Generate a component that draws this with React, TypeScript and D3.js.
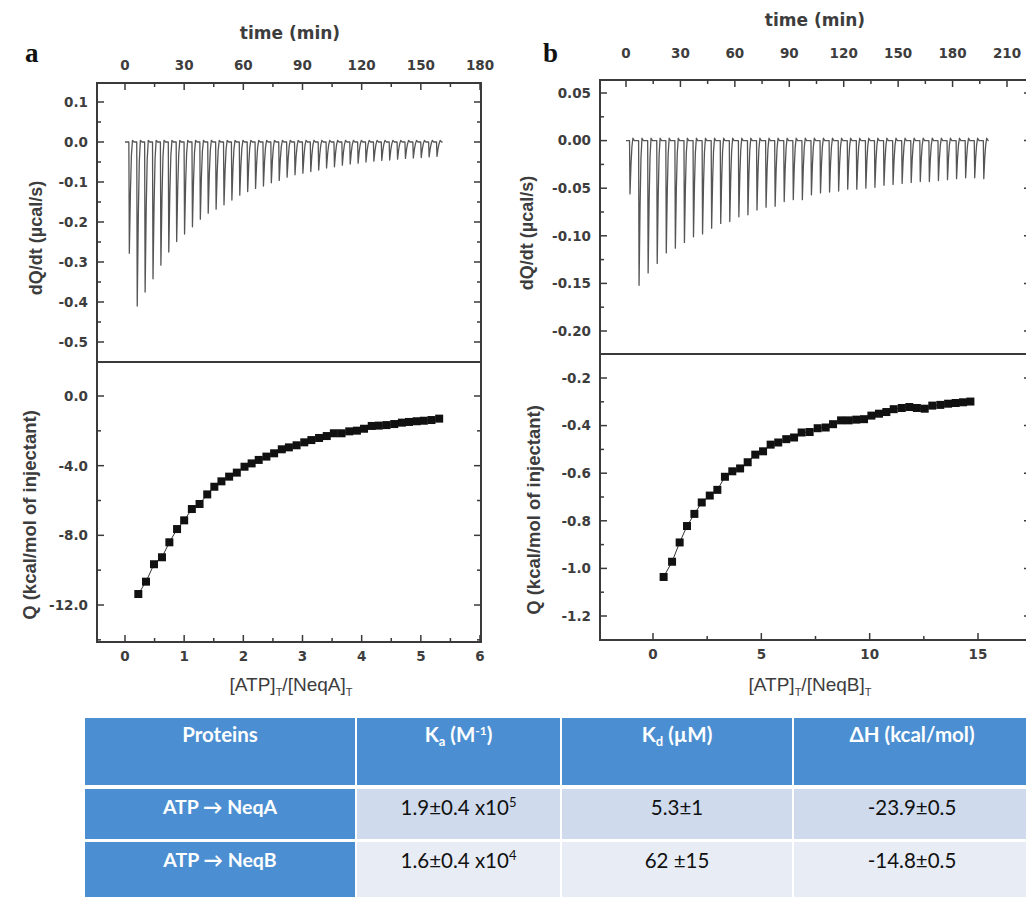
import React from "react";
import * as d3 from "d3";

// ---------------- DATA ----------------
// Panel a (NeqA): raw thermogram injections
const injectionTimesA = [2, 6, 10, 14, 18, 22, 26, 30, 34, 38, 42, 46, 50, 54, 58, 62, 66, 70, 74, 78, 82, 86, 90, 94, 98, 102, 106, 110, 114, 118, 122, 126, 130, 134, 138, 142, 146, 150, 154, 158];
const peakHeightsA = [-0.278, -0.41, -0.375, -0.342, -0.308, -0.275, -0.249, -0.23, -0.212, -0.193, -0.178, -0.168, -0.157, -0.145, -0.133, -0.124, -0.116, -0.11, -0.102, -0.096, -0.088, -0.082, -0.078, -0.074, -0.07, -0.065, -0.062, -0.058, -0.055, -0.053, -0.05, -0.048, -0.046, -0.045, -0.043, -0.041, -0.04, -0.039, -0.037, -0.036];
// Panel a integrated heats
const molarRatioA = [0.225, 0.355, 0.49, 0.625, 0.75, 0.88, 1.0, 1.13, 1.26, 1.39, 1.51, 1.63, 1.76, 1.89, 2.02, 2.14, 2.26, 2.39, 2.52, 2.65, 2.77, 2.9, 3.03, 3.15, 3.28, 3.41, 3.53, 3.66, 3.79, 3.92, 4.04, 4.17, 4.29, 4.42, 4.55, 4.68, 4.8, 4.93, 5.05, 5.18, 5.31];
const heatA = [-11.37, -10.66, -9.66, -9.26, -8.4, -7.64, -7.14, -6.49, -6.2, -5.65, -5.21, -4.9, -4.63, -4.4, -4.06, -3.87, -3.67, -3.48, -3.29, -3.06, -2.95, -2.83, -2.66, -2.53, -2.41, -2.3, -2.14, -2.14, -2.03, -1.99, -1.88, -1.72, -1.7, -1.67, -1.61, -1.53, -1.49, -1.45, -1.42, -1.38, -1.3];

// Panel b (NeqB)
const injectionTimesB = [2, 7, 12, 17, 22, 27, 32, 37, 42, 47, 52, 57, 62, 67, 72, 77, 82, 87, 92, 97, 102, 107, 112, 117, 122, 127, 132, 137, 142, 147, 152, 157, 162, 167, 172, 177, 182, 187, 192, 197];
const peakHeightsB = [-0.056, -0.152, -0.139, -0.129, -0.118, -0.113, -0.107, -0.101, -0.098, -0.092, -0.087, -0.085, -0.08, -0.078, -0.073, -0.07, -0.069, -0.064, -0.062, -0.062, -0.057, -0.055, -0.054, -0.053, -0.051, -0.051, -0.05, -0.049, -0.047, -0.046, -0.045, -0.044, -0.043, -0.043, -0.042, -0.041, -0.04, -0.039, -0.039, -0.04];
const molarRatioB = [0.49, 0.88, 1.23, 1.57, 1.91, 2.25, 2.62, 2.97, 3.32, 3.66, 4.02, 4.37, 4.72, 5.08, 5.43, 5.78, 6.15, 6.51, 6.86, 7.23, 7.6, 7.97, 8.31, 8.68, 9.03, 9.38, 9.74, 10.08, 10.43, 10.77, 11.11, 11.48, 11.83, 12.18, 12.54, 12.89, 13.26, 13.62, 13.97, 14.31, 14.65];
const heatB = [-1.036, -0.972, -0.891, -0.822, -0.771, -0.723, -0.694, -0.67, -0.615, -0.592, -0.58, -0.554, -0.522, -0.508, -0.48, -0.471, -0.457, -0.45, -0.429, -0.427, -0.411, -0.408, -0.394, -0.378, -0.378, -0.375, -0.373, -0.358, -0.35, -0.343, -0.331, -0.326, -0.322, -0.326, -0.329, -0.316, -0.313, -0.308, -0.305, -0.302, -0.299];

// Tick values
const timeTicksA = [0, 30, 60, 90, 120, 150, 180];
const dqTicksA = [0.1, 0.0, -0.1, -0.2, -0.3, -0.4, -0.5];
const qTicksA = [0, -4, -8, -12];
const ratioTicksA = [0, 1, 2, 3, 4, 5, 6];
const timeTicksB = [0, 30, 60, 90, 120, 150, 180, 210];
const dqTicksB = [0.05, 0.0, -0.05, -0.1, -0.15, -0.2];
const qTicksB = [-0.2, -0.4, -0.6, -0.8, -1.0, -1.2];
const ratioTicksB = [0, 5, 10, 15];

// Table
const proteinLabels = ["ATP \u2192 NeqA", "ATP \u2192 NeqB"];
const kaMantissa = ["1.9\u00b10.4 x10", "1.6\u00b10.4 x10"];
const kaExponent = ["5", "4"];
const kdValues = ["5.3\u00b11", "62 \u00b115"];
const dhValues = ["-23.9\u00b10.5", "-14.8\u00b10.5"];

// ---------------- HELPERS ----------------
const TICK_FONT = "'DejaVu Sans', sans-serif";
const TITLE_FONT = "'Liberation Sans', Arial, sans-serif";
const TEXT_COL = "#3d3d3d";
const FRAME_COL = "#3a3a3a";

type Pt = [number, number];

function thermogram(times: number[], peaks: number[], tEnd: number, hook: number): Pt[] {
  const pts: Pt[] = [[0, 0]];
  times.forEach((t, i) => {
    const p = peaks[i];
    pts.push([t - 0.05, 0]);
    pts.push([t + 0.2, p]);
    pts.push([t + 0.75, p * 0.45]);
    pts.push([t + 1.25, p * 0.12]);
    pts.push([t + 1.8, hook]);
    pts.push([t + 2.6, 0]);
  });
  pts.push([tEnd, 0]);
  return pts;
}

function minorsOf(values: number[]) {
  const step = values[1] - values[0];
  const out = [values[0] - step / 2];
  values.forEach((v) => out.push(v + step / 2));
  return out;
}

function VTicks({ scale, values, x0, x1, yLo, yHi }: any) {
  const minors = minorsOf(values);
  const inside = (v: number) => scale(v) > yLo + 2 && scale(v) < yHi - 2;
  return (
    <g stroke={FRAME_COL} strokeWidth={1.5}>
      {values.filter(inside).map((v: number, i: number) => (
        <g key={"M" + i}>
          <line x1={x0} x2={x0 + 7} y1={scale(v)} y2={scale(v)} />
          <line x1={x1} x2={x1 - 7} y1={scale(v)} y2={scale(v)} />
        </g>
      ))}
      {minors.filter(inside).map((v: number, i: number) => (
        <g key={"m" + i}>
          <line x1={x0} x2={x0 + 4} y1={scale(v)} y2={scale(v)} />
          <line x1={x1} x2={x1 - 4} y1={scale(v)} y2={scale(v)} />
        </g>
      ))}
    </g>
  );
}

function HTicks({ scale, values, y, dir, xLo, xHi }: any) {
  const minors = minorsOf(values);
  const inside = (v: number) => scale(v) > xLo + 2 && scale(v) < xHi - 2;
  return (
    <g stroke={FRAME_COL} strokeWidth={1.5}>
      {values.filter((v: number) => scale(v) >= xLo && scale(v) <= xHi).map((v: number, i: number) => (
        <line key={"M" + i} x1={scale(v)} x2={scale(v)} y1={y} y2={y + dir * 7} />
      ))}
      {minors.filter(inside).map((v: number, i: number) => (
        <line key={"m" + i} x1={scale(v)} x2={scale(v)} y1={y} y2={y + dir * 4} />
      ))}
    </g>
  );
}

function XTitle({ x, y, name }: any) {
  return (
    <text x={x} y={y} textAnchor="middle" fontFamily={TITLE_FONT} fontSize={19} fill={TEXT_COL}>
      [ATP]
      <tspan dy={5} fontSize={11}>T</tspan>
      <tspan dy={-5}>/[{name}]</tspan>
      <tspan dy={5} fontSize={11}>T</tspan>
    </text>
  );
}

function Panel({ g }: any) {
  const { left, right, top, mid, bottom, tS, xS, yT, yB, times, peaks, tEnd, hook, ratio, heat,
    tTicks, dTicks, qTicks, rTicks, dFmt, qFmt, topLabelY, bottomLabelY, letter, letterX, timeTitleX, timeTitleY,
    yTitleTopX, yTitleTopY, yTitleBotX, yTitleBotY, xTitleX, xTitleY, name } = g;
  const thermo = thermogram(times, peaks, tEnd, hook);
  const thermoLine = d3.line<Pt>().x((d) => tS(d[0])).y((d) => yT(d[1]));
  const pts: Pt[] = ratio.map((r: number, i: number) => [r, heat[i]]);
  const fitLine = d3.line<Pt>().x((d) => xS(d[0])).y((d) => yB(d[1]));
  const labelLeft = left - 9;
  return (
    <g>
      {/* frames */}
      <rect x={left} y={top} width={right - left} height={bottom - top} fill="none" stroke={FRAME_COL} strokeWidth={2} />
      <line x1={left} x2={right} y1={mid} y2={mid} stroke={FRAME_COL} strokeWidth={2} />
      {/* ticks */}
      <HTicks scale={tS} values={tTicks} y={top} dir={1} xLo={left} xHi={right} />
      <HTicks scale={xS} values={rTicks} y={bottom} dir={-1} xLo={left} xHi={right} />
      <VTicks scale={yT} values={dTicks} x0={left} x1={right} yLo={top} yHi={mid} />
      <VTicks scale={yB} values={qTicks} x0={left} x1={right} yLo={mid} yHi={bottom} />
      {/* tick labels */}
      <g fontFamily={TICK_FONT} fontWeight="bold" fontSize={13.5} fill={TEXT_COL}>
        {tTicks.map((v: number) => (
          <text key={"t" + v} x={tS(v)} y={topLabelY} textAnchor="middle">{String(v)}</text>
        ))}
        {rTicks.map((v: number) => (
          <text key={"r" + v} x={xS(v)} y={bottomLabelY} textAnchor="middle">{String(v)}</text>
        ))}
        {dTicks.map((v: number) => (
          <text key={"d" + v} x={labelLeft} y={yT(v)} dy="0.36em" textAnchor="end">{dFmt(v)}</text>
        ))}
        {qTicks.map((v: number) => (
          <text key={"q" + v} x={labelLeft} y={yB(v)} dy="0.36em" textAnchor="end">{qFmt(v)}</text>
        ))}
      </g>
      {/* thermogram */}
      <path d={thermoLine(thermo) || ""} fill="none" stroke="#555" strokeWidth={1.3} strokeLinejoin="round" />
      {/* binding isotherm */}
      <path d={fitLine(pts) || ""} fill="none" stroke="#333" strokeWidth={1} />
      {pts.map((p, i) => (
        <rect key={i} x={xS(p[0]) - 4} y={yB(p[1]) - 4} width={8} height={8} fill="#111" />
      ))}
      {/* titles */}
      <text x={timeTitleX} y={timeTitleY} textAnchor="middle" fontFamily={TICK_FONT} fontWeight="bold" fontSize={17} fill={TEXT_COL}>
        time (min)
      </text>
      <text transform={`translate(${yTitleTopX},${yTitleTopY}) rotate(-90)`} textAnchor="middle" dy="0.35em"
        fontFamily={TITLE_FONT} fontWeight="bold" fontSize={18} fill={TEXT_COL}>
        dQ/dt (µcal/s)
      </text>
      <text transform={`translate(${yTitleBotX},${yTitleBotY}) rotate(-90)`} textAnchor="middle" dy="0.35em"
        fontFamily={TITLE_FONT} fontWeight="bold" fontSize={18.5} fill={TEXT_COL}>
        Q (kcal/mol of injectant)
      </text>
      <XTitle x={xTitleX} y={xTitleY} name={name} />
      <text x={letterX} y={62} fontFamily="'Liberation Serif', 'Times New Roman', serif" fontWeight="bold" fontSize={27} fill="#111">
        {letter}
      </text>
    </g>
  );
}

function Table() {
  const cols = [
    { x0: 85, x1: 355 },
    { x0: 357, x1: 560 },
    { x0: 562, x1: 792 },
    { x0: 794, x1: 1030 },
  ];
  const header = { y0: 718, y1: 785 };
  const rows = [
    { y0: 789, y1: 839 },
    { y0: 842, y1: 900 },
  ];
  const blue = "#4b8fd2";
  const rowFills = ["#cfdbed", "#e7ecf5"];
  const cx = (c: any) => (c.x0 + c.x1) / 2;
  const hf = { fontFamily: "Lato, 'Open Sans', sans-serif", fontWeight: "bold", fontSize: 20.5, fill: "#fff", textAnchor: "middle" as const };
  const bf = { fontFamily: "Lato, 'Open Sans', sans-serif", fontSize: 20.5, fill: "#111", textAnchor: "middle" as const };
  const hy = 742;
  return (
    <g>
      {cols.map((c, i) => (
        <rect key={"h" + i} x={c.x0} y={header.y0} width={c.x1 - c.x0} height={header.y1 - header.y0} fill={blue} />
      ))}
      {rows.map((r, ri) =>
        cols.map((c, ci) => (
          <rect key={ri + "-" + ci} x={c.x0} y={r.y0} width={c.x1 - c.x0} height={r.y1 - r.y0} fill={ci === 0 ? blue : rowFills[ri]} />
        ))
      )}
      <text x={cx(cols[0])} y={hy} {...hf}>Proteins</text>
      <text x={cx(cols[1])} y={hy} {...hf}>
        K<tspan dy={4} fontSize={13}>a</tspan><tspan dy={-4}> (M</tspan><tspan dy={-7} fontSize={12}>-1</tspan><tspan dy={7}>)</tspan>
      </text>
      <text x={cx(cols[2])} y={hy} {...hf}>
        K<tspan dy={4} fontSize={13}>d</tspan><tspan dy={-4}> (µM)</tspan>
      </text>
      <text x={cx(cols[3])} y={hy} {...hf}>ΔH (kcal/mol)</text>
      {rows.map((r, ri) => {
        const by = r.y0 + 26;
        return (
          <g key={"t" + ri}>
            <text x={cx(cols[0])} y={by - 1} {...hf} fontSize={19.5}>{proteinLabels[ri]}</text>
            <text x={cx(cols[1])} y={by} {...bf}>
              {kaMantissa[ri]}<tspan dy={-8} fontSize={13}>{kaExponent[ri]}</tspan>
            </text>
            <text x={cx(cols[2])} y={by} {...bf}>{kdValues[ri]}</text>
            <text x={cx(cols[3])} y={by} {...bf}>{dhValues[ri]}</text>
          </g>
        );
      })}
    </g>
  );
}

export default function App() {
  const panelA = {
    left: 97, right: 481, top: 83, mid: 362, bottom: 642,
    tS: d3.scaleLinear().domain([0, 180]).range([125, 480]),
    xS: d3.scaleLinear().domain([0, 6]).range([125, 480]),
    yT: d3.scaleLinear().domain([0.1, -0.5]).range([102, 342]),
    yB: d3.scaleLinear().domain([0, -12]).range([396, 605]),
    times: injectionTimesA, peaks: peakHeightsA, tEnd: 161, hook: 0.004,
    ratio: molarRatioA, heat: heatA,
    tTicks: timeTicksA, dTicks: dqTicksA, qTicks: qTicksA, rTicks: ratioTicksA,
    dFmt: (v: number) => v.toFixed(1), qFmt: (v: number) => v.toFixed(1),
    topLabelY: 70, bottomLabelY: 661, letter: "a", letterX: 25,
    timeTitleX: 290, timeTitleY: 39,
    yTitleTopX: 36, yTitleTopY: 238, yTitleBotX: 30, yTitleBotY: 515,
    xTitleX: 291, xTitleY: 691, name: "NeqA",
  };
  const panelB = {
    left: 600, right: 1031, top: 80, mid: 354, bottom: 640,
    tS: d3.scaleLinear().domain([0, 210]).range([626, 1007]),
    xS: d3.scaleLinear().domain([0, 15]).range([653, 978]),
    yT: d3.scaleLinear().domain([0.05, -0.2]).range([93, 331]),
    yB: d3.scaleLinear().domain([-0.2, -1.2]).range([378, 616]),
    times: injectionTimesB, peaks: peakHeightsB, tEnd: 199.5, hook: 0.0025,
    ratio: molarRatioB, heat: heatB,
    tTicks: timeTicksB, dTicks: dqTicksB, qTicks: qTicksB, rTicks: ratioTicksB,
    dFmt: (v: number) => v.toFixed(2), qFmt: (v: number) => v.toFixed(1),
    topLabelY: 58, bottomLabelY: 659, letter: "b", letterX: 543,
    timeTitleX: 815, timeTitleY: 26,
    yTitleTopX: 527, yTitleTopY: 233, yTitleBotX: 534, yTitleBotY: 510,
    xTitleX: 810, xTitleY: 691, name: "NeqB",
  };
  return (
    <svg width={1026} height={897} style={{ position: "absolute", left: 0, top: 0, background: "#fff" }}>
      <rect x={0} y={0} width={1026} height={897} fill="#fff" />
      <Panel g={panelA} />
      <Panel g={panelB} />
      <Table />
    </svg>
  );
}
